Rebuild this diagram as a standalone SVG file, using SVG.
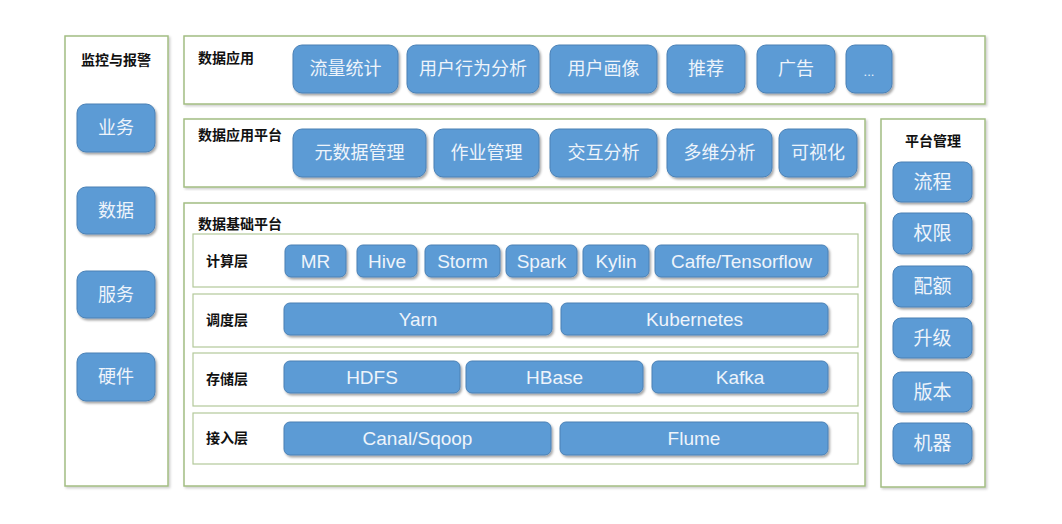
<svg xmlns="http://www.w3.org/2000/svg" width="1062" height="524" viewBox="0 0 1062 524">
<defs>
<filter id="sh" x="-10%" y="-10%" width="130%" height="140%">
<feDropShadow dx="1.5" dy="2" stdDeviation="1.2" flood-color="#000" flood-opacity="0.35"/>
</filter>
<filter id="psh" x="-5%" y="-5%" width="110%" height="110%">
<feDropShadow dx="1.5" dy="1.5" stdDeviation="1" flood-color="#000" flood-opacity="0.2"/>
</filter>
</defs>
<style>
.panel{fill:#fff;stroke:#a3bd82;stroke-width:1.5;filter:url(#psh)}
.row{fill:#fff;stroke:#b3c99a;stroke-width:1.2}
.btn{fill:#5b9bd5;stroke:#4a80b5;stroke-width:1;filter:url(#sh)}
.bt{fill:#eef4fb;font-family:"Liberation Sans","Noto Sans CJK SC",sans-serif;font-size:18px;text-anchor:middle;dominant-baseline:central}
.bt2{fill:#eef4fb;font-family:"Liberation Sans","Noto Sans CJK SC",sans-serif;font-size:19px;text-anchor:middle;dominant-baseline:central}
.lbl{fill:#111;font-family:"Noto Sans CJK SC",sans-serif;font-size:14px;font-weight:bold}
</style>
<rect width="1062" height="524" fill="#fff"/>

<g id="panel-monitor">
<rect class="panel" x="65" y="36" width="103" height="450"/>
<text class="lbl" x="116" y="65" text-anchor="middle">监控与报警</text>
</g>
<g id="panel-app">
<rect class="panel" x="184" y="36" width="801" height="68"/>
<text class="lbl" x="198" y="63">数据应用</text>
</g>
<g id="panel-platform">
<rect class="panel" x="184" y="119" width="681" height="68"/>
<text class="lbl" x="198" y="140">数据应用平台</text>
</g>
<g id="panel-base">
<rect class="panel" x="184" y="203" width="681" height="283"/>
<text class="lbl" x="198" y="229">数据基础平台</text>
</g>
<g id="panel-manage">
<rect class="panel" x="881" y="119" width="104" height="368"/>
<text class="lbl" x="933" y="146" text-anchor="middle">平台管理</text>
</g>

<g id="row-compute"><rect class="row" x="193" y="234" width="665" height="53"/><text class="lbl" x="206" y="266">计算层</text></g>
<g id="row-schedule"><rect class="row" x="193" y="294" width="665" height="53"/><text class="lbl" x="206" y="325">调度层</text></g>
<g id="row-storage"><rect class="row" x="193" y="353" width="665" height="53"/><text class="lbl" x="206" y="384">存储层</text></g>
<g id="row-access"><rect class="row" x="193" y="413" width="665" height="51"/><text class="lbl" x="206" y="443">接入层</text></g>

<g id="n-ye"><rect class="btn" x="77" y="104" width="78" height="48" rx="9"/><text class="bt" x="116" y="128">业务</text></g>
<g id="n-shuju"><rect class="btn" x="77" y="187" width="78" height="47" rx="9"/><text class="bt" x="116" y="210.5">数据</text></g>
<g id="n-fuwu"><rect class="btn" x="77" y="271" width="78" height="47" rx="9"/><text class="bt" x="116" y="294.5">服务</text></g>
<g id="n-yingjian"><rect class="btn" x="77" y="353" width="78" height="48" rx="9"/><text class="bt" x="116" y="377">硬件</text></g>

<g id="n-liuliang"><rect class="btn" x="293" y="45" width="105" height="48" rx="9"/><text class="bt" x="345.5" y="69">流量统计</text></g>
<g id="n-xingwei"><rect class="btn" x="407" y="45" width="132" height="48" rx="9"/><text class="bt" x="473" y="69">用户行为分析</text></g>
<g id="n-huaxiang"><rect class="btn" x="550" y="45" width="107" height="48" rx="9"/><text class="bt" x="603.5" y="69">用户画像</text></g>
<g id="n-tuijian"><rect class="btn" x="667" y="45" width="78" height="48" rx="9"/><text class="bt" x="706" y="69">推荐</text></g>
<g id="n-guanggao"><rect class="btn" x="757" y="45" width="78" height="48" rx="9"/><text class="bt" x="796" y="69">广告</text></g>
<g id="n-more"><rect class="btn" x="846" y="45" width="46" height="48" rx="9"/><text class="bt" x="869" y="71" style="font-size:13px">...</text></g>

<g id="n-meta"><rect class="btn" x="293" y="129" width="133" height="48" rx="9"/><text class="bt" x="359.5" y="153">元数据管理</text></g>
<g id="n-job"><rect class="btn" x="434" y="129" width="105" height="48" rx="9"/><text class="bt" x="486.5" y="153">作业管理</text></g>
<g id="n-jiaohu"><rect class="btn" x="550" y="129" width="107" height="48" rx="9"/><text class="bt" x="603.5" y="153">交互分析</text></g>
<g id="n-duowei"><rect class="btn" x="667" y="129" width="105" height="48" rx="9"/><text class="bt" x="719.5" y="153">多维分析</text></g>
<g id="n-keshi"><rect class="btn" x="779" y="129" width="78" height="48" rx="9"/><text class="bt" x="818" y="153">可视化</text></g>

<g id="n-mr"><rect class="btn" x="285" y="245" width="61" height="32" rx="6"/><text class="bt2" x="315.5" y="261">MR</text></g>
<g id="n-hive"><rect class="btn" x="357" y="245" width="60" height="32" rx="6"/><text class="bt2" x="387" y="261">Hive</text></g>
<g id="n-storm"><rect class="btn" x="425" y="245" width="75" height="32" rx="6"/><text class="bt2" x="462.5" y="261">Storm</text></g>
<g id="n-spark"><rect class="btn" x="506" y="245" width="71" height="32" rx="6"/><text class="bt2" x="541.5" y="261">Spark</text></g>
<g id="n-kylin"><rect class="btn" x="583" y="245" width="66" height="32" rx="6"/><text class="bt2" x="616" y="261">Kylin</text></g>
<g id="n-caffe"><rect class="btn" x="655" y="245" width="173" height="32" rx="6"/><text class="bt2" x="741.5" y="261">Caffe/Tensorflow</text></g>

<g id="n-yarn"><rect class="btn" x="284" y="303" width="268" height="32" rx="6"/><text class="bt2" x="418" y="319">Yarn</text></g>
<g id="n-k8s"><rect class="btn" x="561" y="303" width="267" height="32" rx="6"/><text class="bt2" x="694.5" y="319">Kubernetes</text></g>

<g id="n-hdfs"><rect class="btn" x="284" y="361" width="176" height="32" rx="6"/><text class="bt2" x="372" y="377">HDFS</text></g>
<g id="n-hbase"><rect class="btn" x="466" y="361" width="177" height="32" rx="6"/><text class="bt2" x="554.5" y="377">HBase</text></g>
<g id="n-kafka"><rect class="btn" x="652" y="361" width="176" height="32" rx="6"/><text class="bt2" x="740" y="377">Kafka</text></g>

<g id="n-canal"><rect class="btn" x="284" y="422" width="267" height="33" rx="6"/><text class="bt2" x="417.5" y="438.5">Canal/Sqoop</text></g>
<g id="n-flume"><rect class="btn" x="560" y="422" width="268" height="33" rx="6"/><text class="bt2" x="694" y="438.5">Flume</text></g>

<g id="n-liucheng"><rect class="btn" x="893" y="162" width="79" height="40" rx="8"/><text class="bt2" x="932.5" y="182">流程</text></g>
<g id="n-quanxian"><rect class="btn" x="893" y="213" width="79" height="41" rx="8"/><text class="bt2" x="932.5" y="233.5">权限</text></g>
<g id="n-peie"><rect class="btn" x="893" y="266" width="79" height="41" rx="8"/><text class="bt2" x="932.5" y="286.5">配额</text></g>
<g id="n-shengji"><rect class="btn" x="893" y="318" width="79" height="40" rx="8"/><text class="bt2" x="932.5" y="338">升级</text></g>
<g id="n-banben"><rect class="btn" x="893" y="372" width="79" height="40" rx="8"/><text class="bt2" x="932.5" y="392">版本</text></g>
<g id="n-jiqi"><rect class="btn" x="893" y="423" width="79" height="41" rx="8"/><text class="bt2" x="932.5" y="443.5">机器</text></g>

<g id="connectors"></g>
</svg>
